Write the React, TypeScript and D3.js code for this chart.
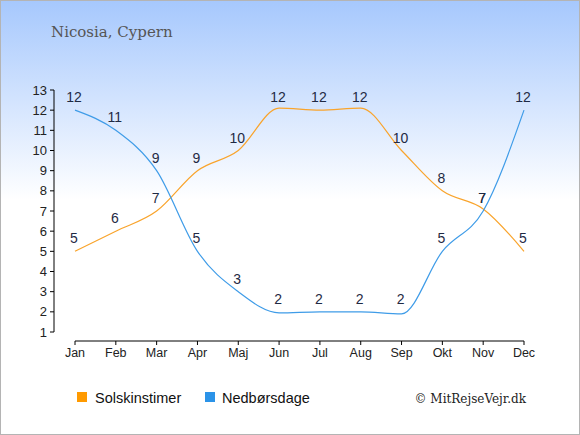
import React from 'react';
import * as d3 from 'd3';

// data
const months = ['Jan', 'Feb', 'Mar', 'Apr', 'Maj', 'Jun', 'Jul', 'Aug', 'Sep', 'Okt', 'Nov', 'Dec'];
const sunHours = [5, 6, 7, 9, 10, 12.1, 12, 12.1, 10, 8, 7.1, 5];
const sunLabels = [5, 6, 7, 9, 10, 12, 12, 12, 10, 8, 7, 5];
const rainDays = [12, 11, 9, 5, 3, 1.95, 2, 2, 1.9, 5, 7, 12];
const rainLabels = [12, 11, 9, 5, 3, 2, 2, 2, 2, 5, 7, 12];
const yTicks = [1, 2, 3, 4, 5, 6, 7, 8, 9, 10, 11, 12, 13];

const W = 580;
const H = 435;
const SUN = '#f9a42c';
const RAIN = '#3f9ce8';
const FONT = '"Liberation Sans", Arial, sans-serif';
const SERIF = '"DejaVu Serif", "Liberation Serif", serif';

export default function App() {
  const x = d3.scalePoint<string>().domain(months).range([75, 524]);
  const y = d3.scaleLinear().domain([1, 13]).range([332, 90]);

  const line = d3
    .line<number>()
    .x((_, i) => x(months[i]) as number)
    .y((d) => y(d))
    .curve(d3.curveMonotoneX);

  const axisY = 341;
  const axisX = 54;

  return (
    <div style={{ position: 'absolute', left: 0, top: 0 }}>
      <svg width={W} height={H} style={{ display: 'block' }}>
        <defs>
          <linearGradient id="bg" x1="0" y1="0" x2="0" y2="1">
            <stop offset="0%" stopColor="#a6c8fd" />
            <stop offset="46%" stopColor="#ffffff" />
            <stop offset="100%" stopColor="#ffffff" />
          </linearGradient>
        </defs>
        <rect x={0.5} y={0.5} width={W - 1} height={H - 1} fill="url(#bg)" stroke="#b4b4b4" />

        <text x={51} y={37} fontFamily={SERIF} fontSize={15} fill="#555">
          Nicosia, Cypern
        </text>

        {/* y axis */}
        <line x1={axisX} x2={axisX} y1={y(13)} y2={y(1)} stroke="#000" />
        {yTicks.map((t) => (
          <g key={t}>
            <line x1={axisX - 4} x2={axisX} y1={y(t)} y2={y(t)} stroke="#000" />
            <text x={axisX - 7} y={y(t) + 4.5} textAnchor="end" fontFamily={FONT} fontSize={13} fill="#222">
              {t}
            </text>
          </g>
        ))}

        {/* x axis */}
        <line x1={x('Jan')} x2={x('Dec')} y1={axisY} y2={axisY} stroke="#000" />
        {months.map((m) => (
          <g key={m}>
            <line x1={x(m)} x2={x(m)} y1={axisY} y2={axisY + 4} stroke="#000" />
            <text x={x(m)} y={axisY + 16} textAnchor="middle" fontFamily={FONT} fontSize={12.5} fill="#222">
              {m}
            </text>
          </g>
        ))}

        <path d={line(sunHours) || ''} fill="none" stroke={SUN} strokeWidth={1.2} />
        <path d={line(rainDays) || ''} fill="none" stroke={RAIN} strokeWidth={1.2} />

        {/* value labels sit over the rounded value, so the two Nov "7"s coincide as in the reference */}
        {sunLabels.map((v, i) => (
          <text key={'s' + i} x={(x(months[i]) as number) - 1} y={y(v) - 8} textAnchor="middle"
            fontFamily={FONT} fontSize={14} fill="#1f2a44">
            {v}
          </text>
        ))}
        {rainLabels.map((v, i) => (
          <text key={'r' + i} x={(x(months[i]) as number) - 1} y={y(v) - 8} textAnchor="middle"
            fontFamily={FONT} fontSize={14} fill="#1f2a44">
            {v}
          </text>
        ))}

        {/* legend */}
        <rect x={77} y={392} width={10} height={10} fill="#ff9a00" />
        <text x={95} y={403} fontFamily={FONT} fontSize={14.5} fill="#111">Solskinstimer</text>
        <rect x={205} y={392} width={10} height={10} fill="#2b93e8" />
        <text x={222} y={403} fontFamily={FONT} fontSize={14.5} fill="#111">Nedbørsdage</text>

        <text x={526} y={403} textAnchor="end" fontFamily={SERIF} fontSize={12} fill="#222">
          © MitRejseVejr.dk
        </text>
      </svg>
    </div>
  );
}
